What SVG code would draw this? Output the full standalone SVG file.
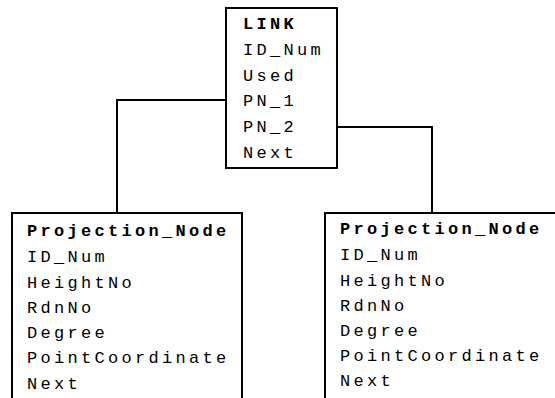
<svg xmlns="http://www.w3.org/2000/svg" width="555" height="398" viewBox="0 0 555 398">
<style>
.box{fill:none;stroke:#000;stroke-width:2}
.t{font-family:"Liberation Mono",monospace;font-size:17px;letter-spacing:3.3px;fill:#000}
.b{font-weight:bold}
.c{fill:none;stroke:#000;stroke-width:2}
</style>
<rect width="555" height="398" fill="#fff"/>
<g id="connectors">
<polyline class="c" points="226,100 117,100 117,213"/>
<polyline class="c" points="337,127 432,127 432,213"/>
</g>
<g id="link">
<rect class="box" x="226" y="8" width="111" height="160"/>
<text class="t b" x="243" y="29">LINK</text>
<text class="t" x="243" y="55">ID_Num</text>
<text class="t" x="243" y="81">Used</text>
<text class="t" x="243" y="106">PN_1</text>
<text class="t" x="243" y="132">PN_2</text>
<text class="t" x="243" y="158">Next</text>
</g>
<g id="pn_left">
<rect class="box" x="12" y="213" width="230" height="200"/>
<text class="t b" x="27" y="236">Projection_Node</text>
<text class="t" x="27" y="262">ID_Num</text>
<text class="t" x="27" y="288">HeightNo</text>
<text class="t" x="27" y="313">RdnNo</text>
<text class="t" x="27" y="338">Degree</text>
<text class="t" x="27" y="363">PointCoordinate</text>
<text class="t" x="27" y="389">Next</text>
</g>
<g id="pn_right">
<rect class="box" x="325" y="213" width="250" height="200"/>
<text class="t b" x="340" y="234">Projection_Node</text>
<text class="t" x="340" y="260">ID_Num</text>
<text class="t" x="340" y="286">HeightNo</text>
<text class="t" x="340" y="311">RdnNo</text>
<text class="t" x="340" y="336">Degree</text>
<text class="t" x="340" y="361">PointCoordinate</text>
<text class="t" x="340" y="386">Next</text>
</g>
</svg>
